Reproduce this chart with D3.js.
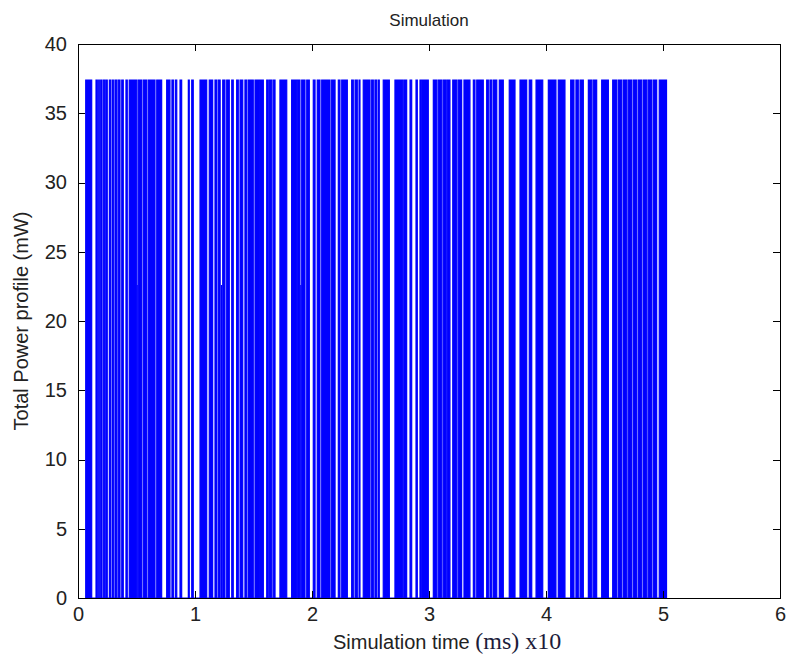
<!DOCTYPE html>
<html>
<head>
<meta charset="utf-8">
<script src="https://cdn.jsdelivr.net/npm/d3@7"></script>
<style>
  body { margin: 0; background: #fff; }
  svg { display: block; }
  .axis text { font-family: "Liberation Sans", Arial, sans-serif; font-size: 20px; fill: #222; }
  .axis path, .axis line { stroke: #000; stroke-width: 1; shape-rendering: crispEdges; }
</style>
</head>
<body>
<div id="chart"></div>
<script>
// on/off pulses of the power trace (x in ms x10)
let pulseStart = [0.066,0.154,0.177,0.194,0.216,0.239,0.268,0.293,0.316,0.344,0.374,0.410,0.438,0.515,0.558,0.601,0.673,0.758,0.803,0.832,0.872,0.943,0.972,1.043,1.122,1.171,1.199,1.237,1.271,1.314,1.356,1.385,1.427,1.456,1.513,1.550,1.613,1.635,1.669,1.726,1.826,1.874,1.912,1.955,2.011,2.045,2.083,2.168,2.225,2.254,2.339,2.368,2.402,2.438,2.510,2.538,2.567,2.609,2.709,2.786,2.838,2.889,2.923,2.946,3.037,3.079,3.122,3.156,3.203,3.250,3.299,3.379,3.408,3.493,3.521,3.550,3.601,3.686,3.778,3.857,3.915,4.020,4.105,4.211,4.256,4.291,4.362,4.404,4.476,4.570,4.618,4.661,4.703,4.746,4.789,4.832,4.874,4.917,4.968];
let pulseEnd   = [0.117,0.165,0.182,0.203,0.228,0.250,0.279,0.302,0.331,0.359,0.387,0.421,0.502,0.544,0.587,0.658,0.715,0.786,0.815,0.844,0.886,0.951,0.985,1.100,1.151,1.185,1.215,1.256,1.293,1.327,1.370,1.408,1.442,1.498,1.541,1.584,1.624,1.656,1.684,1.784,1.869,1.897,1.940,1.977,2.026,2.068,2.154,2.197,2.239,2.302,2.353,2.387,2.410,2.496,2.524,2.553,2.575,2.661,2.775,2.809,2.852,2.900,2.938,2.994,3.066,3.109,3.145,3.179,3.237,3.279,3.350,3.393,3.464,3.507,3.536,3.579,3.635,3.735,3.835,3.878,3.972,4.085,4.162,4.239,4.276,4.319,4.391,4.433,4.533,4.604,4.647,4.690,4.732,4.775,4.818,4.861,4.903,4.946,5.030];
let peakLevel = 37.4;
// short spikes that only reach part level
let notchAt = [0.506, 1.226, 1.904];
let notchLevel = [22.6, 22.6, 22.6];

let xTicks = [0,1,2,3,4,5,6];
let yTicks = [0,5,10,15,20,25,30,35,40];

let W = 787, H = 657;
let margin = {top: 44, right: 7, bottom: 59, left: 78};

let svg = d3.select("#chart").append("svg")
  .attr("width", W)
  .attr("height", H);

let x = d3.scaleLinear().domain([0, 6]).range([margin.left, W - margin.right]);
let y = d3.scaleLinear().domain([0, 40]).range([H - margin.bottom, margin.top]);

// build the step signal from pulses
let pts = [];
pulseStart.forEach((s, i) => {
  pts.push([s, 0], [s, peakLevel], [pulseEnd[i], peakLevel], [pulseEnd[i], 0]);
});

let area = d3.area()
  .x(d => x(d[0]))
  .y0(y(0))
  .y1(d => y(d[1]));

let line = d3.line()
  .x(d => x(d[0]))
  .y(d => y(d[1]));

svg.append("path")
  .datum(pts)
  .attr("d", area)
  .attr("fill", "#0000ff");

svg.append("path")
  .datum(pts)
  .attr("d", line)
  .attr("fill", "none")
  .attr("stroke", "#0000ff")
  .attr("stroke-width", 1.2);

svg.selectAll(".notch")
  .data(notchAt)
  .enter().append("line")
  .attr("class", "notch")
  .attr("x1", d => x(d)).attr("x2", d => x(d))
  .attr("y1", y(0))
  .attr("y2", (d, i) => y(notchLevel[i]))
  .attr("stroke", "#0000ff")
  .attr("stroke-width", 1.2);

// axes, ticks pointing inward like matlab
svg.append("g").attr("class", "axis")
  .attr("transform", "translate(0," + y(0) + ")")
  .call(d3.axisBottom(x).tickValues(xTicks).tickSizeInner(-7).tickSizeOuter(0).tickPadding(9).tickFormat(d3.format("d")));

svg.append("g").attr("class", "axis")
  .attr("transform", "translate(0," + y(40) + ")")
  .call(d3.axisTop(x).tickValues(xTicks).tickSizeInner(-7).tickSizeOuter(0).tickFormat(""));

svg.append("g").attr("class", "axis")
  .attr("transform", "translate(" + x(0) + ",0)")
  .call(d3.axisLeft(y).tickValues(yTicks).tickSizeInner(-7).tickSizeOuter(0).tickPadding(11).tickFormat(d3.format("d")));

svg.append("g").attr("class", "axis")
  .attr("transform", "translate(" + x(6) + ",0)")
  .call(d3.axisRight(y).tickValues(yTicks).tickSizeInner(-7).tickSizeOuter(0).tickFormat(""));

// title and labels
svg.append("text")
  .attr("x", (x(0) + x(6)) / 2)
  .attr("y", 26)
  .attr("text-anchor", "middle")
  .style("font-family", "Liberation Sans, Arial, sans-serif")
  .style("font-size", "17px")
  .style("fill", "#222")
  .text("Simulation");

let xl = svg.append("text")
  .attr("x", 333)
  .attr("y", 649)
  .style("fill", "#222");
xl.append("tspan")
  .style("font-family", "Liberation Sans, Arial, sans-serif")
  .style("font-size", "20px")
  .text("Simulation time ");
xl.append("tspan")
  .style("font-family", "Liberation Serif, Times New Roman, serif")
  .style("font-size", "24px")
  .style("fill", "#1c1c3a")
  .text("(ms) x10");

svg.append("text")
  .attr("transform", "translate(28," + ((y(0) + y(40)) / 2) + ") rotate(-90)")
  .attr("text-anchor", "middle")
  .style("font-family", "Liberation Sans, Arial, sans-serif")
  .style("font-size", "20px")
  .style("fill", "#222")
  .text("Total Power profile (mW)");
</script>
</body>
</html>
